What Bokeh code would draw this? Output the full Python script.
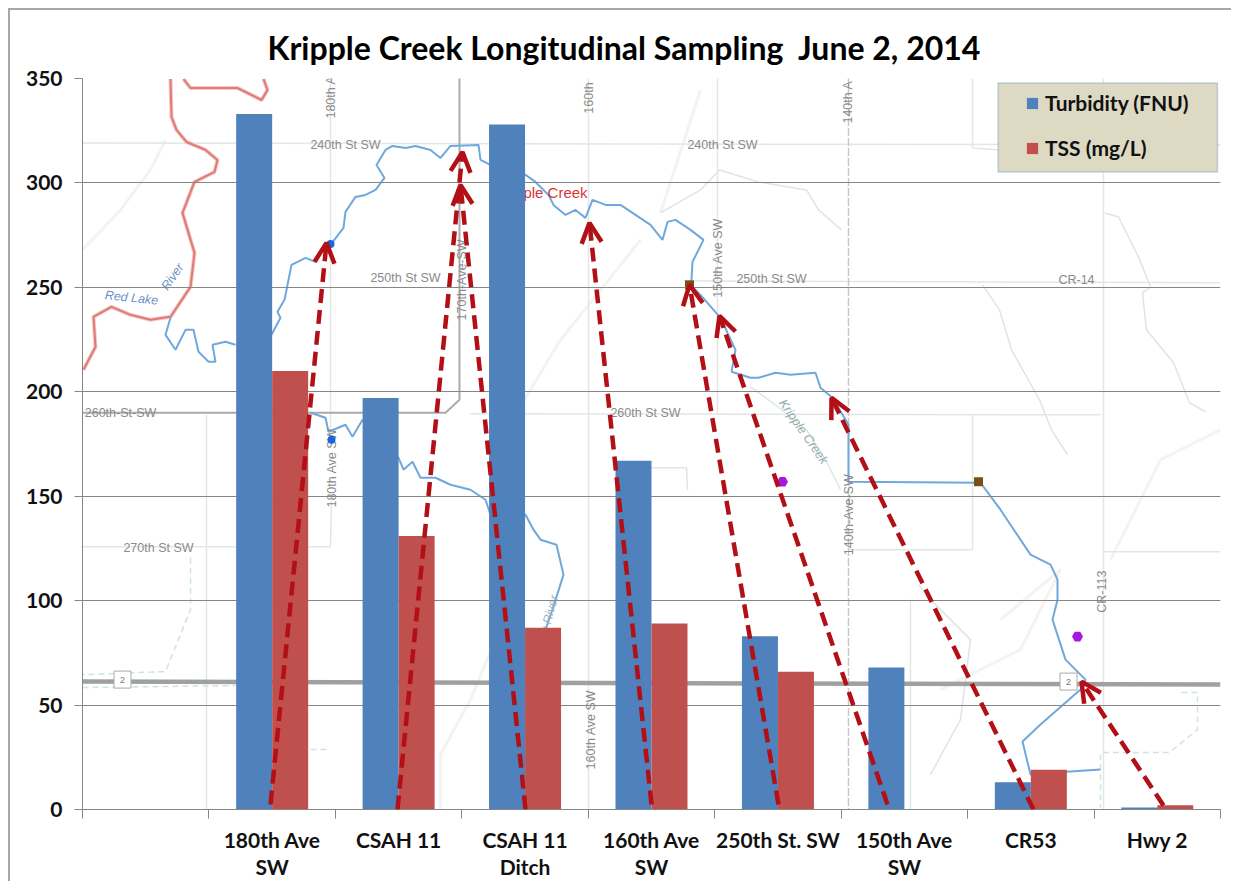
from bokeh.embed import file_html
from bokeh.resources import INLINE
from bokeh.plotting import figure
from bokeh.models import Range1d, FixedTicker, Arrow, OpenHead, Title, BoxAnnotation
from bokeh.core.properties import value
import numpy as np

# ---------- chart data ----------
categories = ["180th Ave\nSW", "CSAH 11", "CSAH 11\nDitch", "160th Ave\nSW",
              "250th St. SW", "150th Ave\nSW", "CR53", "Hwy 2"]
turbidity = [333, 197, 328, 167, 83, 68, 13, 1]
tss = [210, 131, 87, 89, 66, 0, 19, 2]
y_ticks = [0, 50, 100, 150, 200, 250, 300, 350]
title_text = "Kripple Creek Longitudinal Sampling\u00a0 June 2, 2014"

# ---------- traced map background and arrows (picture positions) ----------
red_river = [[(170,79),(171,117),(176,130),(186,142),(205,150),(217,160),(214,172),(194,182),(182,213),(194,253),(190,287),(170,317),(150,320),(130,315),(111,307),(93,317),(95,347),(83,370)],
             [(183,79),(190,88),(237,88),(261,100),(267,90),(263,79)]]
creek = [[(170,318),(165,335),(175,350),(185,330),(193,330),(198,352),(208,362),(215,362),(212,345),(225,342),(235,345)],
         [(271,335),(280,318),(277,312),(284,300),(291,265),(305,258),(315,262),(322,250),(330,245),(343,228),(345,212),(355,197),(365,195),(375,190),(384,178),(376,165),(385,150),(392,146),(405,148),(415,146),(430,150),(440,158),(450,146),(478,145),(480,160),(490,165),(510,170),(525,175),(535,182),(548,195),(553,205),(565,215),(575,210),(585,218),(592,200),(605,205),(620,205),(635,215),(650,225),(662,240),(667,222),(675,220),(690,230),(703,240),(692,262),(691,280),(690,285),(700,295),(720,318),(735,350),(731,372),(750,378),(758,378),(775,373),(790,375),(815,373),(820,388),(832,398),(848,425),(848,482),(980,483),(1000,510),(1030,555),(1050,565),(1057,580),(1057,600),(1052,620),(1065,660),(1085,680),(1080,690),(1040,725),(1022,742),(1030,775),(1070,772),(1100,770)]]
creek2 = [(310,413),(325,418),(328,432),(345,425),(352,437),(362,420),(398,458),(403,470),(412,462),(420,478),(435,478),(450,485),(470,490),(485,500),(490,515),(525,515),(533,530),(540,540),(556,545),(563,575),(552,610),(545,630)]
roads_dark = [(82,413),(445,413),(459,400),(459,78)]
highway = [(82,682),(1220,685)]
roads_light = [[(82,143),(1220,145)],[(683,281),(1220,283)],[(470,414),(1100,415)],[(82,547),(330,547),(331,500)],
               [(330,78),(330,440)],[(588,78),(588,810)],[(717,78),(717,415)],[(1103,78),(1103,810)],
               [(972,79),(972,148),(1000,150)],[(972,415),(972,550),(848,550)],[(1103,552),(1220,552)],
               [(206,415),(206,810)],[(910,600),(910,810)]]
road_dash = [(848,78),(848,810)]
streams = [[(1104,213),(1118,217),(1138,257),(1150,287),(1142,293),(1146,330),(1173,363),(1189,403),(1205,412)],
           [(982,285),(999,310),(1011,350),(1039,400),(1051,430),(1067,455)],
           [(660,213),(700,190),(719,170),(758,182),(806,190),(818,210),(841,230)],
           [(750,387),(772,403),(806,430),(825,460),(840,490)],
           [(650,468),(686,468),(687,490)],[(918,585),(930,600),(970,640),(960,720),(930,775)]]
terrain = [[(82,250),(120,210),(150,170),(165,140)],[(1220,430),(1160,460),(1110,560)],[(660,213),(700,90)],
           [(440,810),(440,755),(470,700),(495,640),(490,620)],[(640,240),(560,340),(500,440)],
           [(1000,620),(1060,570),(1020,650),(940,690)]]
water_dash = [[(190,558),(190,610),(165,672),(82,675)],[(82,688),(235,686)],[(310,750),(330,750)],
              [(1181,693),(1197,693),(1197,730),(1169,753),(1100,753),(1100,808)]]
arrows = [((270,805),(326,243)),((397,810),(462,152)),((525,810),(460,185)),((651,805),(589,223)),
          ((778,805),(689,285)),((887,805),(719,316)),((1033,810),(831,398)),((1163,806),(1081,682))]
map_labels = [("240th St SW",345,145,0),("240th St SW",722,145,0),("250th St SW",405,278,0),("250th St SW",771,279,0),
              ("CR-14",1076,280,0),("260th-St-SW",120,413,0),("260th St SW",645,413,0),("270th St SW",158,548,0),
              ("180th A",330,97,90),("160th",588,98,90),("140th A",847,102,90),("180th Ave SW",331,468,90),
              ("170th-Ave-SW",461,280,90),("150th Ave SW",717,258,90),("160th Ave SW",590,730,90),
              ("140th-Ave-SW",848,515,90),("CR-113",1101,592,90)]
river_labels = [("Red Lake",131,298,-6,"#6C8FC9"),("River",172,277,55,"#6C8FC9"),("Kripple Creek",803,432,-55,"#8FA8A8"),("ey River",548,618,75,"#9DB5BF")]

# ---------- geometry of the picture ----------
FX0, FX1, FY0, FY1 = 82, 1220, 810, 78.5
XMAX, YMAX = 9, 350
def dx(px): return (px - FX0) / (FX1 - FX0) * XMAX
def dy(py): return (FY0 - py) / (FY0 - FY1) * YMAX
def xs(pts): return [dx(a) for a, _ in pts]
def ys(pts): return [dy(b) for _, b in pts]

p = figure(frame_width=1138, frame_height=731, x_range=Range1d(0, XMAX), y_range=Range1d(0, YMAX),
           output_backend="svg", toolbar_location=None,
           min_border_left=72, min_border_right=11, min_border_top=68, min_border_bottom=60,
           outline_line_color=None, background_fill_color="white", border_fill_color="white")
p.styles = {"margin-left": "8px", "margin-top": "8px",
            "border-left": "2px solid #A8A8A8", "border-top": "2px solid #A8A8A8", "box-sizing": "border-box"}

p.add_layout(Title(text=title_text, align="left", offset=185, text_font="Lato", text_font_size="32px",
                   text_font_style="bold", text_color="black", standoff=24), "above")

# map
def ml(lines, color, width, dash="solid", alpha=1.0):
    p.multi_line([xs(l) for l in lines], [ys(l) for l in lines], line_color=color, line_width=width,
                 line_dash=dash, line_alpha=alpha, level="image")

ml(terrain, "#F3F3EF", 3)
ml(roads_light, "#E4E6E6", 1.5)
ml(streams, "#DCE7E5", 1.5)
ml(water_dash, "#CFE3E6", 1.5, "6 4")
ml([road_dash], "#C8C8C8", 1.5, "8 2")
ml([roads_dark], "#ABABAB", 2)
ml([highway], "#A0A0A0", 4.5)
ml(red_river, "#F5C8C4", 4)
ml(red_river, "#E07A76", 2)
ml(creek, "#6FA8DC", 2)
ml([creek2], "#6FA8DC", 2)

for t, a, b, ang in map_labels:
    p.text([dx(a)], [dy(b)], text=[t], angle=np.deg2rad(ang), text_align="center", text_baseline="middle",
           text_font=value("Liberation Sans"), text_font_size="12.5px", text_color="#8A8A8A", level="image")
for t, a, b, ang, c in river_labels:
    p.text([dx(a)], [dy(b)], text=[t], angle=np.deg2rad(ang), text_align="center", text_baseline="middle",
           text_font=value("Liberation Sans"), text_font_size="12.5px", text_font_style="italic", text_color=c, level="image")
p.text([dx(555)], [dy(193)], text=["ple Creek"], text_align="center", text_baseline="middle",
       text_font=value("Liberation Sans"), text_font_size="15px", text_color="#D9363A", level="image")
shield = [(122,680),(1068,682)]
p.scatter(xs(shield), ys(shield), marker="square", size=17, fill_color="white", line_color="#AAAAAA", level="image")
p.text(xs(shield), ys(shield), text=["2","2"], text_align="center", text_baseline="middle",
       text_font=value("Liberation Sans"), text_font_size="9px", text_color="#777777", level="image")
p.scatter(xs([(782,482),(1077,637)]), ys([(782,482),(1077,637)]), marker="hex", size=11, fill_color="#A418E0", line_color=None, level="image")
p.scatter(xs([(689,285),(978,482)]), ys([(689,285),(978,482)]), marker="square", size=9, fill_color="#7A5010", line_color=None, level="image")
p.scatter(xs([(330,244),(331,440)]), ys([(330,244),(331,440)]), marker="circle", size=8, fill_color="#1A66D8", line_color=None, level="image")

# bars
centers = np.arange(len(categories)) + 1.5
bw = 36 / ((FX1 - FX0) / XMAX)
p.vbar(x=centers - bw / 2, top=turbidity, bottom=0, width=bw, fill_color="#4F81BD", line_color=None, legend_label="Turbidity (FNU)")
p.vbar(x=centers + bw / 2, top=tss, bottom=0, width=bw, fill_color="#C0504D", line_color=None, legend_label="TSS (mg/L)")

# axes and grid
xa, ya = p.xaxis[0], p.yaxis[0]
xa.ticker = FixedTicker(ticks=list(centers), minor_ticks=list(range(XMAX + 1)))
xa.major_label_overrides = {float(c): t for c, t in zip(centers, categories)}
xa.major_tick_line_color = None
xa.major_tick_in = 0
xa.major_tick_out = 0
xa.minor_tick_in = 0
xa.minor_tick_out = 9
xa.minor_tick_line_color = "#868686"
xa.axis_line_color = "#868686"
xa.major_label_standoff = 8
xa.major_label_text_font = "Lato"
xa.major_label_text_font_size = "21px"
xa.major_label_text_font_style = "bold"
xa.major_label_text_color = "#111111"
xa.major_label_text_line_height = 1.08
ya.ticker = FixedTicker(ticks=y_ticks)
ya.minor_tick_line_color = None
ya.major_tick_in = 0
ya.major_tick_out = 8
ya.major_tick_line_color = "#868686"
ya.axis_line_color = "#868686"
ya.major_label_standoff = 12
ya.major_label_text_font = "Lato"
ya.major_label_text_font_size = "21px"
ya.major_label_text_font_style = "bold"
ya.major_label_text_color = "#111111"
p.xgrid.visible = False
p.ygrid.ticker = FixedTicker(ticks=y_ticks)
p.ygrid.grid_line_color = "#868686"
p.ygrid.grid_line_width = 1.2

# arrows
for (s, e) in arrows:
    p.add_layout(Arrow(end=OpenHead(size=20, line_color="#B30F16", line_width=4.5),
                       x_start=dx(s[0]), y_start=dy(s[1]), x_end=dx(e[0]), y_end=dy(e[1]),
                       line_color="#B30F16", line_width=4.5, line_dash="14 7"))

# legend
p.add_layout(BoxAnnotation(left=dx(997.5), right=dx(1217), bottom=dy(172), top=dy(83), fill_color="#DDD9C3", fill_alpha=1,
                           line_color="#4F81BD", line_width=1.5))
lg = p.legend[0]
lg.location = (943, 649)
lg.background_fill_alpha = 0
lg.border_line_color = None
lg.margin = 0
lg.padding = 0
lg.spacing = 20
lg.glyph_width = 14
lg.glyph_height = 14
lg.label_height = 24
lg.label_standoff = 6
lg.label_text_font = "Lato"
lg.label_text_font_size = "21px"
lg.label_text_font_style = "bold"
lg.label_text_color = "#111111"
p.center.remove(lg)
p.add_layout(lg)

open("out.html", "w").write(file_html(p, INLINE))
